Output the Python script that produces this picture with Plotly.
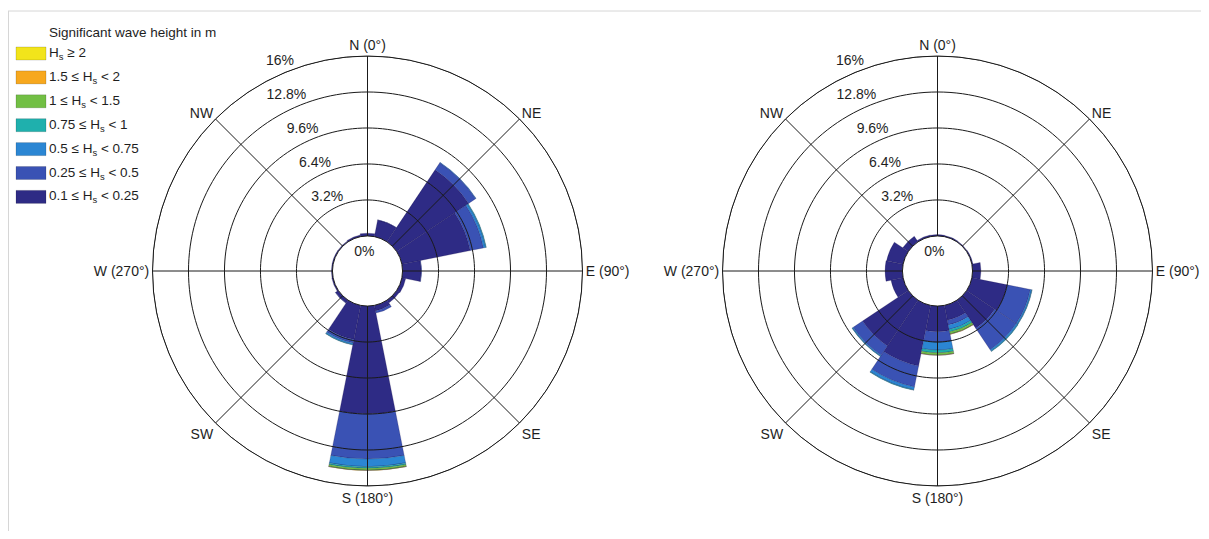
import plotly.graph_objects as go

# 16 direction sectors, 22.5 deg each
directions = ["N", "NNE", "NE", "ENE", "E", "ESE", "SE", "SSE",
              "S", "SSW", "SW", "WSW", "W", "WNW", "NW", "NNW"]
theta = [0, 22.5, 45, 67.5, 90, 112.5, 135, 157.5,
         180, 202.5, 225, 247.5, 270, 292.5, 315, 337.5]

# Hs classes, from the centre outwards
hs_names = ["0.1 ≤ H<sub>s</sub> < 0.25", "0.25 ≤ H<sub>s</sub> < 0.5",
            "0.5 ≤ H<sub>s</sub> < 0.75", "0.75 ≤ H<sub>s</sub> < 1",
            "1 ≤ H<sub>s</sub> < 1.5", "1.5 ≤ H<sub>s</sub> < 2", "H<sub>s</sub> ≥ 2"]
hs_colors = ["#2e2b85", "#3a52b4", "#2b86d3", "#1fb0ad",
             "#72bf44", "#f7a81e", "#f2e41b"]

# left rose: frequency (%) per direction for each Hs class
left_010 = [0.25, 1.5, 7.7, 6.2, 1.65, 0.35, 0.3, 0.5, 9.6, 3.1, 0.3, 0.12, 0.1, 0.1, 0.1, 0.15]
left_025 = [0, 0.03, 0.75, 1.2, 0.05, 0, 0, 0.2, 4.0, 0.3, 0.03, 0, 0, 0, 0, 0]
left_050 = [0, 0, 0.05, 0.2, 0, 0, 0, 0, 0.68, 0.15, 0, 0, 0, 0, 0, 0]
left_075 = [0, 0, 0, 0.06, 0, 0, 0, 0, 0.14, 0.04, 0, 0, 0, 0, 0, 0]
left_100 = [0, 0, 0, 0, 0, 0, 0, 0, 0.18, 0, 0, 0, 0, 0, 0, 0]
left_150 = [0, 0, 0, 0, 0, 0, 0, 0, 0.02, 0, 0, 0, 0, 0, 0, 0]
left_200 = [0, 0, 0, 0, 0, 0, 0, 0, 0, 0, 0, 0, 0, 0, 0, 0]

# right rose
right_010 = [0.12, 0.1, 0.08, 0.1, 0.75, 3.2, 3.0, 1.35, 2.28, 5.5, 4.9, 1.1, 1.55, 1.5, 0.6, 0.15]
right_025 = [0, 0, 0, 0, 0, 2.1, 2.3, 0.42, 0.92, 1.9, 1.0, 0, 0, 0, 0, 0]
right_050 = [0, 0, 0, 0, 0, 0.13, 0.15, 0.41, 0.71, 0.25, 0.1, 0, 0, 0, 0, 0]
right_075 = [0, 0, 0, 0, 0, 0.04, 0.05, 0.22, 0.24, 0.05, 0.03, 0, 0, 0, 0, 0]
right_100 = [0, 0, 0, 0, 0, 0, 0, 0.2, 0.21, 0, 0, 0, 0, 0, 0, 0]
right_150 = [0, 0, 0, 0, 0, 0, 0, 0.03, 0.02, 0, 0, 0, 0, 0, 0, 0]
right_200 = [0, 0, 0, 0, 0, 0, 0, 0, 0, 0, 0, 0, 0, 0, 0, 0]

ring_vals = [3.2, 6.4, 9.6, 12.8, 16]
ring_text = ["3.2%", "6.4%", "9.6%", "12.8%", "16%"]
compass_vals = [0, 45, 90, 135, 180, 225, 270, 315]
compass_text = ["N (0°)", "NE", "E (90°)", "SE", "S (180°)", "SW", "W (270°)", "NW"]

# page has an 8px body margin, so the figure is a bit smaller than the window
W, H = 1193, 523
MT, MB = 48, 45
FONT = "Liberation Sans, Arial, sans-serif"
TXT = "#1e1e1e"

fig = go.Figure()

roses = [
    ("polar", [left_010, left_025, left_050, left_075, left_100, left_150, left_200]),
    ("polar2", [right_010, right_025, right_050, right_075, right_100, right_150, right_200]),
]

circle_theta = list(range(0, 361, 2))

for sub, classes in roses:
    for name, color, vals in zip(hs_names, hs_colors, classes):
        fig.add_trace(go.Barpolar(
            r=vals, theta=theta, width=22.5, name=name, subplot=sub,
            marker=dict(color=color, line=dict(color="rgba(25,20,70,0.45)", width=0.5)),
            showlegend=False, hoverinfo="skip"
        ))
    # grid drawn over the bars, like the original
    for v in ring_vals:
        fig.add_trace(go.Scatterpolar(
            r=[v] * len(circle_theta), theta=circle_theta, mode="lines", subplot=sub,
            line=dict(color="#1a1a1a", width=1), showlegend=False, hoverinfo="skip"
        ))
    for a in compass_vals:
        fig.add_trace(go.Scatterpolar(
            r=[0, 16], theta=[a, a], mode="lines", subplot=sub,
            line=dict(color="#1a1a1a", width=1), showlegend=False, hoverinfo="skip"
        ))
    # percentage labels
    fig.add_trace(go.Scatterpolar(
        r=ring_vals, theta=[340] * len(ring_vals), mode="text",
        text=ring_text, textposition="top left", subplot=sub, cliponaxis=False,
        textfont=dict(family=FONT, size=14, color=TXT),
        showlegend=False, hoverinfo="skip"
    ))
    # invisible marker pushes the 0% label a little further into the hole
    fig.add_trace(go.Scatterpolar(
        r=[0], theta=[355], mode="markers+text", text=["0%"], textposition="bottom center",
        marker=dict(size=13, opacity=0), subplot=sub, cliponaxis=False,
        textfont=dict(family=FONT, size=14, color=TXT),
        showlegend=False, hoverinfo="skip"
    ))


def polar_layout(x0, x1):
    return dict(
        domain=dict(x=[x0 / W, x1 / W], y=[0, 1]),
        hole=0.163,
        bgcolor="white",
        barmode="stack",
        angularaxis=dict(
            rotation=90, direction="clockwise",
            tickvals=compass_vals, ticktext=compass_text,
            showgrid=False, showline=True, linecolor="#1a1a1a", linewidth=1,
            ticks="", tickfont=dict(family=FONT, size=14, color=TXT),
        ),
        radialaxis=dict(
            range=[0, 16], tickvals=ring_vals, showticklabels=False,
            showline=False, ticks="", showgrid=False,
        ),
    )


fig.update_layout(
    width=W, height=H,
    margin=dict(l=0, r=0, t=MT, b=MB),
    paper_bgcolor="white", plot_bgcolor="white",
    font=dict(family=FONT, size=14, color=TXT),
    polar=polar_layout(144.5, 574.5),
    polar2=polar_layout(714.5, 1144.5),
    showlegend=False,
)


def py(y):
    return (H - MB - y) / (H - MT - MB)


# legend, drawn by hand to get the wide swatches
legend_order = list(range(len(hs_names)))[::-1]
for i, k in enumerate(legend_order):
    yc = 45.5 + 23.9 * i
    fig.add_shape(type="rect", xref="paper", yref="paper",
                  x0=8 / W, x1=38 / W, y0=py(yc + 6.5), y1=py(yc - 6.5),
                  fillcolor=hs_colors[k], line=dict(color="rgba(0,0,0,0.25)", width=0.6))
    fig.add_annotation(x=39 / W, y=py(yc), xref="paper", yref="paper",
                       text=hs_names[k], showarrow=False, xanchor="left", yanchor="middle",
                       font=dict(family=FONT, size=13.5, color=TXT))

fig.add_annotation(x=39 / W, y=py(25), xref="paper", yref="paper",
                   text="Significant wave height in m", showarrow=False,
                   xanchor="left", yanchor="middle",
                   font=dict(family=FONT, size=13.5, color=TXT))

# thin frame of the original figure (top and left edges)
fig.add_shape(type="line", xref="paper", yref="paper", x0=0, x1=1, y0=py(3), y1=py(3),
              line=dict(color="#d6d6d6", width=1))
fig.add_shape(type="line", xref="paper", yref="paper", x0=0.5 / W, x1=0.5 / W, y0=py(H), y1=py(3),
              line=dict(color="#d6d6d6", width=1))

fig.write_html("out.html")
